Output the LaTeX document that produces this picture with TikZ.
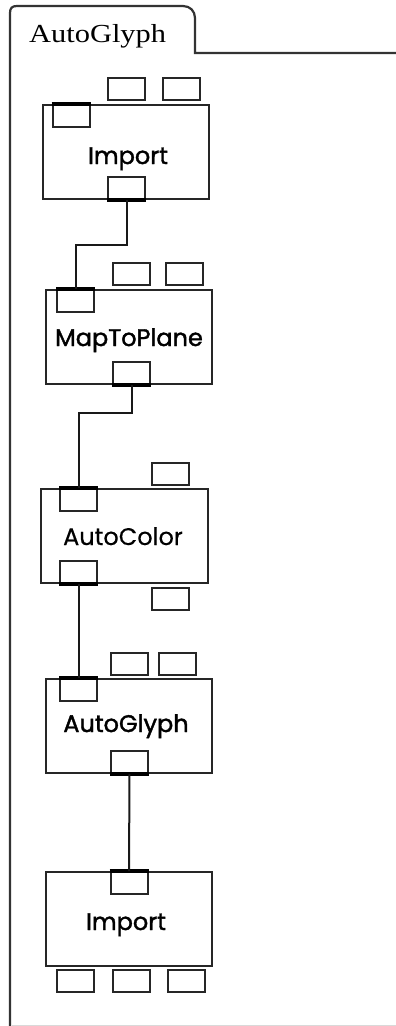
\documentclass[tikz,border=0pt]{standalone}
\usepackage{fontspec}
\setmainfont{Liberation Serif}
\newfontfamily\modfont[FakeBold=1.6]{Poppins}
\newfontfamily\modfontlight[FakeBold=0.4]{Poppins}
\begin{document}
\begin{tikzpicture}[x=1pt,y=-1pt,
  frame/.style={draw=black!80, line width=2.2pt},
  module/.style={draw=black!85, line width=2pt, fill=white, minimum width=166pt, minimum height=94pt, inner sep=0pt},
  port/.style={draw=black!85, line width=2pt, minimum width=37pt, minimum height=22pt, inner sep=0pt},
  thickedge/.style={draw=black, line width=3.5pt},
  wire/.style={draw=black!90, line width=2pt},
  modlabel/.style={font=\fontsize{24}{26}\modfont, anchor=base, inner sep=0pt},
  tablabel/.style={font=\fontsize{26}{28}\selectfont, anchor=base west, inner sep=0pt, xscale=1.17}
]
\useasboundingbox (0,0) rectangle (396,1026);
% frame and tab
\draw[frame] (10,1026) -- (10,13) .. controls (10,8) and (12,6) .. (17,6) -- (183,6) .. controls (190,6) and (195,11) .. (195,18) -- (195,53) -- (396,53);
\draw[draw=black!15, line width=1pt] (12,1025) -- (396,1025);
\node[tablabel] (tab) at (29,42) {AutoGlyph};

% Import 1
\node[module] (imp1) at (126,152) {};
\node[port] (imp1o1) at (126.5,89) {};
\node[port] (imp1o2) at (181.5,89) {};
\node[port] (imp1in) at (71,116) {};
\node[port] (imp1out) at (126.5,188) {};
\draw[thickedge] (imp1in.north west) -- (imp1in.north east);
\draw[thickedge] (imp1out.south west) -- (imp1out.south east);
\node[modlabel] (imp1t) at (128,164) {Import};

% MapToPlane
\node[module] (mtp) at (129,337) {};
\node[port] (mtpo1) at (131.5,274) {};
\node[port] (mtpo2) at (184.5,274) {};
\node[port] (mtpin) at (75.5,301) {};
\node[port] (mtpout) at (131.5,373) {};
\draw[thickedge] (mtpin.north west) -- (mtpin.north east);
\draw[thickedge] (mtpout.south west) -- (mtpout.south east);
\node[modlabel] (mtpt) at (129,346) {MapToPlane};

% AutoColor
\node[module, minimum width=167pt] (ac) at (124.5,536) {};
\node[port] (aco1) at (170.5,474) {};
\node[port] (aco2) at (170.5,599) {};
\node[port] (acin) at (78.5,500) {};
\node[port] (acout) at (78.5,572) {};
\draw[thickedge] (acin.north west) -- (acin.north east);
\draw[thickedge] (acout.south west) -- (acout.south east);
\node[modlabel, font=\fontsize{24}{26}\modfontlight] (act) at (123,545) {AutoColor};

% AutoGlyph
\node[module] (ag) at (129,726) {};
\node[port] (ago1) at (129.5,663.5) {};
\node[port] (ago2) at (177.5,663.5) {};
\node[port] (agin) at (78.5,690) {};
\node[port] (agout) at (129.5,762) {};
\draw[thickedge] (agin.north west) -- (agin.north east);
\draw[thickedge] (agout.south west) -- (agout.south east);
\node[modlabel] (agt) at (126,732) {AutoGlyph};

% Import 2
\node[module] (imp2) at (129,919) {};
\node[port] (imp2in) at (129,883) {};
\node[port] (imp2o1) at (75.5,980.5) {};
\node[port] (imp2o2) at (131.5,980.5) {};
\node[port] (imp2o3) at (186.5,980.5) {};
\draw[thickedge] (imp2in.north west) -- (imp2in.north east);
\node[modlabel] (imp2t) at (126,930) {Import};

% connectors
\draw[wire] (imp1out.south) -- ++(0,45) -| (mtpin.north);
\draw[wire] (mtpout.south) -- ++(0,28) -| (acin.north);
\draw[wire] (acout.south) -- (agin.north);
\draw[wire] (agout.south) -- (imp2in.north);
\end{tikzpicture}
\end{document}
